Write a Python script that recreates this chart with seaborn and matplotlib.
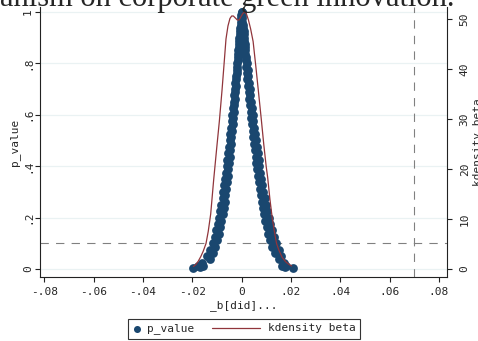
import numpy as np
import pandas as pd
import matplotlib
matplotlib.use("Agg")
import matplotlib.pyplot as plt
import seaborn as sns
from matplotlib.legend_handler import HandlerLine2D, HandlerPathCollection
from matplotlib.collections import PathCollection

# outer edges of the scatter band, read at these p-values
p_outer = [1.0, 0.975, 0.95, 0.925, 0.9, 0.875, 0.85, 0.825, 0.8, 0.775,
           0.75, 0.725, 0.7, 0.675, 0.65, 0.625, 0.6, 0.575, 0.55, 0.525,
           0.5, 0.475, 0.45, 0.425, 0.4, 0.375, 0.35, 0.325, 0.3, 0.275,
           0.25, 0.225, 0.2, 0.175, 0.15, 0.125, 0.1, 0.075, 0.05, 0.025,
           0.01, 0.003]
beta_left_outer = [0.0000, -0.0002, -0.0004, -0.0007, -0.0009, -0.0011, -0.0013, -0.0016,
                   -0.0018, -0.0020, -0.0023, -0.0025, -0.0027, -0.0030, -0.0032, -0.0035,
                   -0.0037, -0.0040, -0.0042, -0.0045, -0.0048, -0.0051, -0.0054, -0.0057,
                   -0.0060, -0.0063, -0.0066, -0.0070, -0.0074, -0.0077, -0.0082, -0.0086,
                   -0.0091, -0.0096, -0.0102, -0.0109, -0.0117, -0.0126, -0.0139, -0.0159,
                   -0.0178, -0.0195]
beta_right_outer = [0.0000, 0.0003, 0.0005, 0.0008, 0.0011, 0.0014, 0.0016, 0.0019,
                    0.0022, 0.0025, 0.0027, 0.0030, 0.0033, 0.0036, 0.0039, 0.0042,
                    0.0045, 0.0048, 0.0051, 0.0055, 0.0058, 0.0061, 0.0065, 0.0069,
                    0.0072, 0.0076, 0.0080, 0.0085, 0.0089, 0.0094, 0.0099, 0.0104,
                    0.0110, 0.0117, 0.0124, 0.0132, 0.0141, 0.0150, 0.0158, 0.0172,
                    0.0182, 0.0210]

# inner edges of the band, read between the outer levels
p_inner = [0.9875, 0.9625, 0.9375, 0.9125, 0.8875, 0.8625, 0.8375, 0.8125, 0.7875, 0.7625,
           0.7375, 0.7125, 0.6875, 0.6625, 0.6375, 0.6125, 0.5875, 0.5625, 0.5375, 0.5125,
           0.4875, 0.4625, 0.4375, 0.4125, 0.3875, 0.3625, 0.3375, 0.3125, 0.2875, 0.2625,
           0.2375, 0.2125, 0.1875, 0.1625, 0.1375, 0.1125, 0.0875, 0.0625, 0.0375, 0.0125,
           0.006]
beta_left_inner = [-0.0001, -0.0003, -0.0005, -0.0007, -0.0009, -0.0011, -0.0013, -0.0015,
                   -0.0017, -0.0019, -0.0021, -0.0023, -0.0025, -0.0027, -0.0029, -0.0031,
                   -0.0034, -0.0036, -0.0038, -0.0041, -0.0043, -0.0046, -0.0048, -0.0051,
                   -0.0054, -0.0056, -0.0059, -0.0063, -0.0066, -0.0069, -0.0073, -0.0077,
                   -0.0082, -0.0087, -0.0092, -0.0098, -0.0106, -0.0115, -0.0129, -0.0155,
                   -0.0170]
beta_right_inner = [0.0001, 0.0003, 0.0006, 0.0008, 0.0010, 0.0013, 0.0015, 0.0017,
                    0.0020, 0.0022, 0.0024, 0.0027, 0.0029, 0.0032, 0.0034, 0.0037,
                    0.0040, 0.0042, 0.0045, 0.0048, 0.0051, 0.0054, 0.0057, 0.0060,
                    0.0063, 0.0066, 0.0070, 0.0074, 0.0078, 0.0082, 0.0086, 0.0091,
                    0.0096, 0.0102, 0.0108, 0.0116, 0.0125, 0.0136, 0.0152, 0.0165,
                    0.0175]

# kernel density of beta
kde_x = [-0.0195, -0.0185, -0.0175, -0.0165, -0.0155, -0.0144, -0.0135, -0.0125,
         -0.0113, -0.0100, -0.0090, -0.0079, -0.0070, -0.0063, -0.0055, -0.0047,
         -0.0040, -0.0033, -0.0025, -0.0017, -0.0010, -0.0003, 0.0005, 0.0013,
         0.0020, 0.0028, 0.0037, 0.0047, 0.0058, 0.0070, 0.0080, 0.0090,
         0.0100, 0.0106, 0.0115, 0.0125, 0.0135, 0.0142, 0.0152, 0.0165,
         0.0180, 0.0193, 0.0203]
kde_y = [0.5, 0.9, 1.6, 2.5, 3.6, 5.1, 7.5, 11.0,
         17.8, 24.5, 29.5, 35.8, 41.5, 46.0, 48.6, 50.1,
         50.6, 50.6, 50.2, 49.8, 49.8, 50.4, 51.1, 51.4,
         51.0, 49.8, 48.0, 45.5, 40.5, 34.8, 30.0, 25.0,
         20.5, 18.3, 14.0, 10.0, 7.0, 5.1, 3.7, 2.3,
         1.4, 0.9, 0.6]

x_ticks = [-0.08, -0.06, -0.04, -0.02, 0, 0.02, 0.04, 0.06, 0.08]
x_tick_labels = ["-.08", "-.06", "-.04", "-.02", "0", ".02", ".04", ".06", ".08"]
p_ticks = [0, 0.2, 0.4, 0.6, 0.8, 1.0]
p_tick_labels = ["0", ".2", ".4", ".6", ".8", "1"]
d_ticks = [0, 10, 20, 30, 40, 50]
d_tick_labels = ["0", "10", "20", "30", "40", "50"]
p_cut = 0.1
beta_true = 0.07

sns.set_style("white")
plt.rcParams["font.family"] = ["DejaVu Sans Mono"]
plt.rcParams["font.size"] = 8

navy = "#1a476f"
maroon = "#90353b"
axcol = "#222222"

df = pd.DataFrame({
    "beta": beta_left_outer + beta_right_outer + beta_left_inner + beta_right_inner,
    "p": p_outer * 2 + p_inner * 2,
})

fig = plt.figure(figsize=(4.78, 3.41), dpi=100)
ax = fig.add_axes([40 / 478, 64 / 341, 407 / 478, 270 / 341])
ax2 = ax.twinx()

ax.yaxis.grid(True, color="#eaf2f3", lw=0.9)
ax.set_axisbelow(True)

sns.scatterplot(data=df, x="beta", y="p", ax=ax, color=navy, s=40,
                linewidth=0, label="p_value", legend=False, zorder=3)
sns.lineplot(x=kde_x, y=kde_y, ax=ax2, color=maroon, lw=0.9,
             label="kdensity beta", legend=False)

ax.axhline(p_cut, color="#808080", lw=0.8, dashes=(7.5, 6.5), zorder=2)
ax.axvline(beta_true, color="#808080", lw=0.8, dashes=(7.5, 6.5), zorder=2)

ax.set_xlim(-0.0817, 0.0833)
ax.set_ylim(-0.031, 1.019)
ax2.set_ylim(-1.6, 52.4)

ax.set_xticks(x_ticks, x_tick_labels)
ax.set_yticks(p_ticks, p_tick_labels)
ax2.set_yticks(d_ticks, d_tick_labels)

for a in (ax, ax2):
    a.spines["top"].set_visible(False)
    for s in a.spines.values():
        s.set_color(axcol)
        s.set_linewidth(0.8)
ax.spines["right"].set_visible(False)
ax2.spines["left"].set_visible(False)
ax2.spines["bottom"].set_visible(False)

ax.tick_params(axis="x", direction="out", length=3.6, width=0.8, color=axcol,
               pad=3.6, labelsize=8, bottom=True)
ax.tick_params(axis="y", direction="out", length=3.6, width=0.8, color=axcol,
               pad=1.5, labelsize=8, left=True)
ax2.tick_params(axis="y", direction="out", length=3.6, width=0.8, color=axcol,
                pad=5.5, labelsize=8, right=True)
for t in ax.get_yticklabels():
    t.set_rotation(90)
    t.set_va("center")
for t in ax2.get_yticklabels():
    t.set_rotation(90)
    t.set_va("center")

ax.set_xlabel("_b[did]...", fontsize=8)
ax.xaxis.label.set_va("center")
ax.xaxis.set_label_coords(0.5, -0.104)
ax.set_ylabel("p_value", fontsize=8)
ax.yaxis.label.set_va("center")
ax.yaxis.set_label_coords(-0.0614, 0.5)
ax2.set_ylabel("kdensity beta", fontsize=8, rotation=90)
ax2.yaxis.label.set_va("center")
ax2.yaxis.set_label_coords(1.0765, 0.5)

fig.text(455 / 478, 1 - 6 / 341, "mechanism on corporate green innovation.",
         family="Liberation Serif", fontsize=22, ha="right", va="baseline")


class LongLine(HandlerLine2D):
    # legend line reaches further left than the handle box (values in points)
    def get_xdata(self, legend, xdescent, ydescent, width, height, fontsize):
        return [-xdescent - 29.5, -xdescent + width - 3.6], [-xdescent + 0.5 * width]


h1 = ax.collections[0]
h2 = ax2.lines[0]
fig.legend([h1, h2], ["p_value", "kdensity beta"], loc="upper left",
           bbox_to_anchor=(128 / 478, 1 - 319 / 341), ncol=2, frameon=True,
           fancybox=False, edgecolor="#333333", framealpha=1, fontsize=8,
           handlelength=1.08, handletextpad=0.23, columnspacing=5.3,
           borderpad=0.4, borderaxespad=0, markerscale=0.8,
           handler_map={h2: LongLine(), PathCollection: HandlerPathCollection(xpad=-0.3)})
fig.legends[0].get_frame().set_linewidth(0.8)

fig.savefig("out.png", dpi=100, facecolor="white")
